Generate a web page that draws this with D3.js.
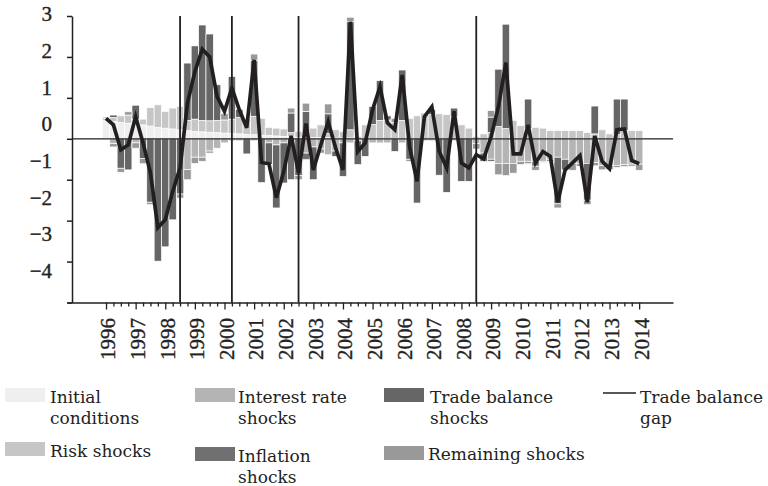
<!DOCTYPE html>
<html>
<head>
<meta charset="utf-8">
<script src="https://cdn.jsdelivr.net/npm/d3@7"></script>
<style>
  html, body { margin: 0; padding: 0; background: #fff; }
  svg { display: block; }
</style>
</head>
<body>
<svg id="chart" width="768" height="486"></svg>
<script>
// ---------------- DATA (quarterly, 1996Q1 .. 2014Q1) ----------------
const years = ["1996","1997","1998","1999","2000","2001","2002","2003","2004","2005",
               "2006","2007","2008","2009","2010","2011","2012","2013","2014"];
const yTickValues = [3, 2, 1, 0, -1, -2, -3, -4];
const seriesNames = ["Initial conditions", "Risk shocks", "Interest rate shocks",
                     "Inflation shocks", "Trade balance shocks", "Remaining shocks"];
const lineName = "Trade balance gap";
const breakQuarters = [10, 17, 26, 50]; // vertical lines (quarter index)

const initialConditions = [0.44,0.42,0.40,0.38,0.36,0.34,0.31,0.28,0.26,0.24,
  0.22,0.20,0.18,0.17,0.16,0.15,0.14,0.13,0.12,0.11,
  0.10,0.09,0.08,0.07,0.06,0.05,0.04,0.04,0.03,0.03,
  0.03,0.02,0.02,0.02,0.01,0.01,0,0,0,0,
  0,0,0,0,0,0,0,0,0,0,
  0,0,0,0,0,0,0,0,0,0,
  0,0,0,0,0,0,0,0,0,0,
  0,0,0];
const riskShocks = [0.06,0.10,0.16,0.20,0.12,0.14,0.45,0.55,0.41,0.51,
  0.57,0.25,0.30,0.28,0.28,0.30,0.32,0.35,0.40,0.39,
  0.45,0.41,0.20,0.19,0.18,0.10,0.14,0.10,0.23,0.31,
  0.10,0.20,0.16,0.20,0.05,0.33,0.35,0.45,0.46,0.40,
  0.45,0.50,0.56,0.63,0.60,0.61,0.59,0.55,0.34,0.26,
  0.05,0.12,0.15,0.30,0.25,0.45,0.32,0.25,0.28,0.26,
  0.20,0.20,0.20,0.20,0.20,0.15,0.12,0.22,0.12,0.10,
  0.20,0.20,0.20];
const interestRateShocks = [0,-0.12,0,0,-0.10,0,0,0,0,0,
  0,-0.75,-0.45,-0.45,-0.30,-0.23,-0.10,-0.05,-0.05,0,
  -0.05,0,-0.10,-0.15,-0.10,0,0,-0.35,-0.20,-0.25,
  -0.39,-0.30,-0.10,-0.10,-0.05,0,-0.10,-0.10,-0.10,0,
  -0.10,0,0,-0.05,-0.05,0,0,-0.05,0,0,
  -0.12,-0.35,-0.50,-0.60,-0.60,-0.60,-0.55,-0.55,-0.55,-0.55,
  -0.50,-0.45,-0.50,-0.60,-0.60,-0.60,-0.58,-0.65,-0.65,-0.65,
  -0.63,-0.62,-0.62];
const inflationShocks = [0,0,0,0,0,0,0,0,0,0,
  0,0,0,0,0,0,0,0,0,0,
  0,0,0,0,0,-1.00,0,-0.16,0,0,
  0,0,0,0,0,0,0,0,0,0,
  0,0,0,0,0,0,0,0,0,0,
  0,0,-0.05,0,0,0,0,0,-0.12,0,
  0,0,0,0,0,0,0,0,0,0,
  0,0,0];
const tradeBalanceShocks = [0,0.06,-0.72,-0.76,0.34,-0.48,-1.55,-2.99,-2.64,-1.98,
  -1.35,1.40,1.79,2.33,2.12,0.87,0,1.04,0.20,-0.37,
  1.37,-1.07,-0.53,-1.54,-0.98,0.48,-0.90,0.53,-0.80,0,
  0.48,-0.13,-0.82,2.64,-0.58,-0.43,0.44,0.97,0.10,-0.31,
  1.23,-0.50,-1.57,0,0.11,-0.89,-1.31,0.20,-1.04,-1.04,
  0,-0.20,0.38,1.40,2.55,0,0,0.72,0,0,
  0,-1.14,-0.26,0,0,-0.90,0.68,0,0,0.87,
  0.77,0,0];
const remainingShocks = [0.03,-0.08,-0.10,0.08,-0.13,-0.13,-0.06,0,0,0,
  -0.10,-0.25,-0.15,-0.10,-0.05,0,0.16,0,0,0,
  0.15,0,0,0,0,0.12,-0.10,0.20,0,-0.10,
  0.24,0,0,0.11,0,0,0,0,0,0.10,
  0,-0.05,0,0,0,0,0,0,0,0,
  -0.13,0,0.16,-0.28,-0.30,-0.24,-0.08,-0.06,-0.10,-0.03,
  -0.05,-0.10,0,-0.17,-0.07,-0.11,-0.08,-0.11,-0.10,-0.05,
  -0.05,-0.05,-0.15];
const tradeBalanceGap = [0.5,0.34,-0.27,-0.15,0.54,-0.1,-0.83,-2.17,-1.98,-1.29,
  -0.71,0.87,1.64,2.19,2.0,1.03,0.67,1.24,0.71,0.27,
  1.93,-0.58,-0.61,-1.44,-0.8,0.07,-0.83,0.37,-0.76,-0.15,
  0.42,-0.22,-0.76,2.86,-0.31,-0.1,0.71,1.27,0.39,0.22,
  1.56,-0.2,-1.04,0.54,0.78,-0.31,-0.71,0.67,-0.59,-0.71,
  -0.39,-0.49,0.05,0.79,1.86,-0.37,-0.37,0.34,-0.59,-0.31,
  -0.43,-1.55,-0.76,-0.59,-0.41,-1.55,0.07,-0.55,-0.73,0.22,
  0.24,-0.53,-0.61];

// ---------------- STYLE ----------------
const colors = {
  "Initial conditions": "#efefef",
  "Risk shocks": "#c6c6c6",
  "Interest rate shocks": "#b4b4b4",
  "Inflation shocks": "#707070",
  "Trade balance shocks": "#666666",
  "Remaining shocks": "#999999"
};
const ink = "#231f20";
const NUMFONT = "'Liberation Serif', serif";
const TXTFONT = "'DejaVu Serif', 'Liberation Serif', serif";

// ---------------- BUILD ----------------
const seriesArrays = [initialConditions, riskShocks, interestRateShocks,
                      inflationShocks, tradeBalanceShocks, remainingShocks];
const nQ = tradeBalanceGap.length;
const rows = d3.range(nQ).map(i => {
  const r = { q: i };
  seriesNames.forEach((k, j) => r[k] = seriesArrays[j][i]);
  return r;
});
const stacked = d3.stack().keys(seriesNames).offset(d3.stackOffsetDiverging)(rows);

const svg = d3.select("#chart");

const x = d3.scaleLinear().domain([-5.27, 76.57]).range([67, 673]);
const y = d3.scaleLinear().domain([-4, 3]).range([302.5, 16]);
const yLabel = d3.scaleLinear().domain([-4, 3]).range([270.5, 14]);
const qW = x(1) - x(0);

// bars
const gBars = svg.append("g");
stacked.forEach(s => {
  gBars.append("g")
    .attr("fill", colors[s.key])
    .selectAll("rect")
    .data(s.filter(d => Math.abs(d[1] - d[0]) > 1e-9))
    .join("rect")
    .attr("x", d => x(d.data.q) - qW / 2)
    .attr("width", qW)
    .attr("y", d => y(Math.max(d[0], d[1])))
    .attr("height", d => Math.abs(y(d[0]) - y(d[1])))
    .attr("stroke", "#fff")
    .attr("stroke-width", 0.7);
});

// zero line
svg.append("line")
  .attr("x1", 72).attr("x2", 673)
  .attr("y1", y(0)).attr("y2", y(0))
  .attr("stroke", ink).attr("stroke-width", 1.3);

// vertical break lines
svg.append("g").selectAll("line")
  .data(breakQuarters)
  .join("line")
  .attr("x1", d => x(d)).attr("x2", d => x(d))
  .attr("y1", y(3)).attr("y2", y(-4))
  .attr("stroke", ink).attr("stroke-width", 1.8);

// y axis
const yAxis = d3.axisLeft(y).tickValues(yTickValues).tickSize(5).tickSizeOuter(0).tickFormat("");
const gy = svg.append("g").attr("transform", "translate(72,0)").call(yAxis);
gy.selectAll("path, line").attr("stroke", ink).attr("stroke-width", 1.5);

svg.append("g").selectAll("text")
  .data(yTickValues)
  .join("text")
  .attr("x", 52)
  .attr("y", d => yLabel(d))
  .attr("dy", "0.35em")
  .attr("text-anchor", "end")
  .attr("font-family", NUMFONT)
  .attr("fill", "#222").attr("stroke", "#222").attr("stroke-width", 0.35)
  .style("font-size", "21px")
  .text(d => d < 0 ? "\u2212" + Math.abs(d) : String(d));

// x axis
const xAxis = d3.axisBottom(x)
  .tickValues(d3.range(0, nQ))
  .tickSizeOuter(0)
  .tickFormat("");
const gx = svg.append("g").attr("transform", `translate(0,${y(-4)})`).call(xAxis);
gx.selectAll("path").attr("stroke", ink).attr("stroke-width", 1.5);
gx.selectAll(".tick line")
  .attr("stroke", ink).attr("stroke-width", 1.3)
  .attr("y2", d => d % 4 === 0 ? 7 : 4);

svg.append("g").selectAll("text")
  .data(years)
  .join("text")
  .attr("transform", (d, k) => `translate(${x(k * 4) + 2},318) rotate(-90)`)
  .attr("dy", "0.35em")
  .attr("text-anchor", "end")
  .attr("font-family", NUMFONT)
  .attr("fill", "#222").attr("stroke", "#222").attr("stroke-width", 0.35)
  .style("font-size", "21px")
  .text(d => d);

// trade balance gap line
const line = d3.line().x((d, i) => x(i)).y(d => y(d));
svg.append("path")
  .datum(tradeBalanceGap)
  .attr("d", line)
  .attr("fill", "none")
  .attr("stroke", ink)
  .attr("stroke-width", 3.7)
  .attr("stroke-linejoin", "miter");

// legend
const legendItems = [
  { name: "Initial conditions", lines: ["Initial", "conditions"], sx: 5, sy: 388, tx: 50, ty: 403 },
  { name: "Interest rate shocks", lines: ["Interest rate", "shocks"], sx: 195, sy: 388, tx: 238, ty: 403 },
  { name: "Trade balance shocks", lines: ["Trade balance", "shocks"], sx: 384, sy: 388, tx: 430, ty: 403 },
  { name: lineName, lines: ["Trade balance", "gap"], sx: 603, sy: 393, tx: 640, ty: 403, isLine: true },
  { name: "Risk shocks", lines: ["Risk shocks"], sx: 5, sy: 442, tx: 50, ty: 457 },
  { name: "Inflation shocks", lines: ["Inflation", "shocks"], sx: 195, sy: 447, tx: 238, ty: 462 },
  { name: "Remaining shocks", lines: ["Remaining shocks"], sx: 384, sy: 446, tx: 428, ty: 460 }
];
const gl = svg.append("g");
legendItems.forEach(it => {
  if (it.isLine) {
    gl.append("line").attr("x1", it.sx).attr("x2", it.sx + 33)
      .attr("y1", it.sy).attr("y2", it.sy)
      .attr("stroke", ink).attr("stroke-width", 1.3);
  } else {
    gl.append("rect").attr("x", it.sx).attr("y", it.sy)
      .attr("width", 40).attr("height", 14)
      .attr("fill", colors[it.name]);
  }
  it.lines.forEach((t, k) => {
    gl.append("text").attr("x", it.tx).attr("y", it.ty + k * 21)
      .attr("font-family", TXTFONT)
      .attr("fill", "#222")
      .style("font-size", "17px").text(t);
  });
});
</script>
</body>
</html>
